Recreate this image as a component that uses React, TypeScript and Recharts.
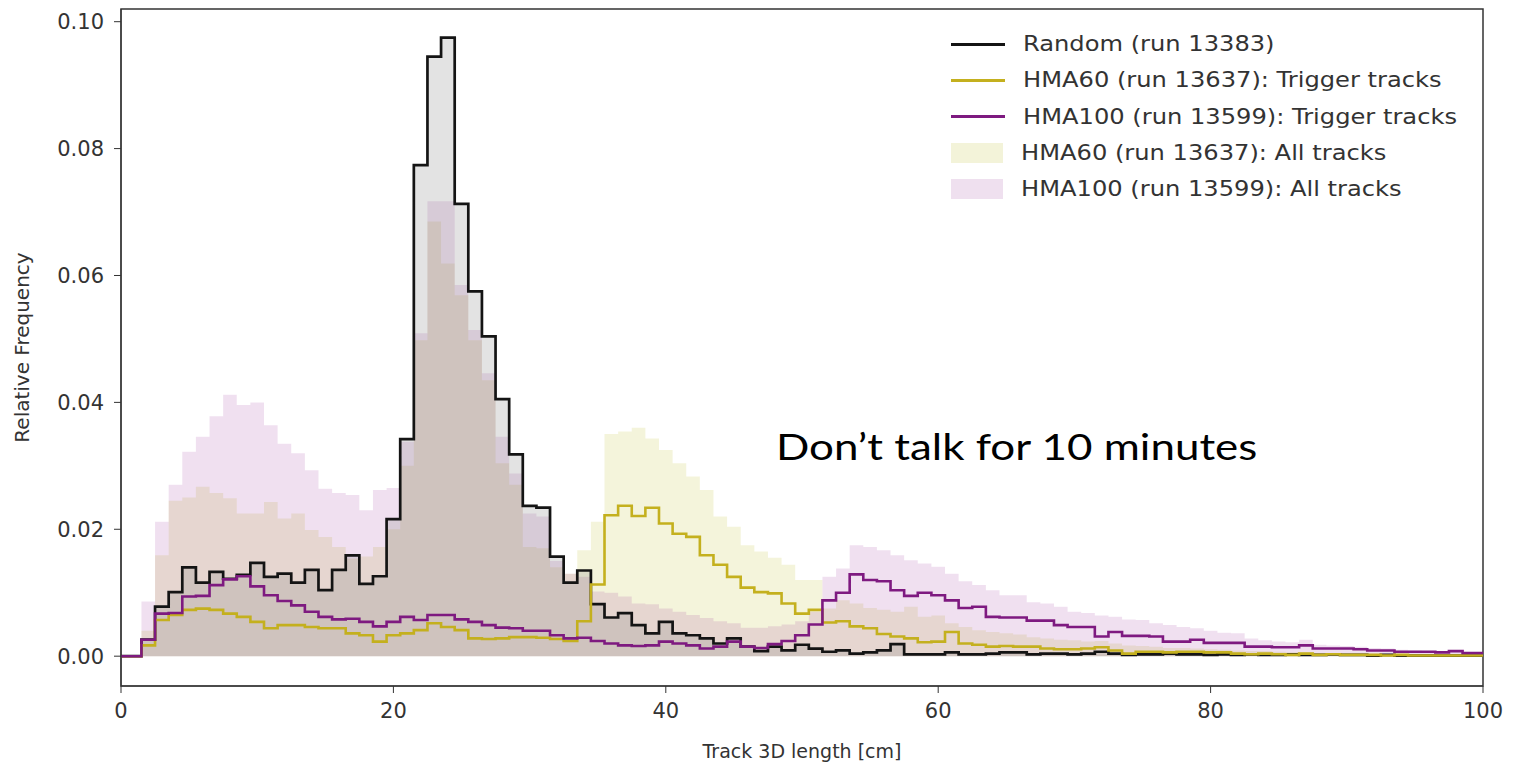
import { ComposedChart, Area, Line, XAxis, YAxis, ReferenceArea } from 'recharts'

// bin centres in cm, 1 cm wide bins
const binCenters = Array.from({ length: 101 }, (_, i) => i)

const randomRun = [
  0, 0, 0.0026, 0.0078, 0.0101, 0.014, 0.0116, 0.0133, 0.0122, 0.0128,
  0.0147, 0.0125, 0.013, 0.0116, 0.0136, 0.0104, 0.0136, 0.0159, 0.0114, 0.0126,
  0.0216, 0.0342, 0.0774, 0.0945, 0.0975, 0.0713, 0.0575, 0.0504, 0.0405, 0.0318,
  0.0237, 0.0234, 0.0157, 0.0116, 0.0135, 0.0082, 0.0061, 0.0068, 0.0049, 0.0036,
  0.0054, 0.0036, 0.0033, 0.0028, 0.002, 0.0028, 0.0015, 0.0008, 0.0015, 0.0009,
  0.0018, 0.0012, 0.0007, 0.0009, 0.0004, 0.0006, 0.0009, 0.0019, 0.0003, 0.0003,
  0.0003, 0.0006, 0.0003, 0.0003, 0.0004, 0.0006, 0.0006, 0.0003, 0.0004, 0.0004,
  0.0003, 0.0004, 0.0007, 0.0004, 0.0002, 0.0003, 0.0003, 0.0004, 0.0003, 0.0003,
  0.0002, 0.0003, 0.0002, 0.0003, 0.0002, 0.0002, 0.0003, 0.0002, 0.0002, 0.0003,
  0.0002, 0.0002, 0.0001, 0.0002, 0.0001, 0.0001, 0.0001, 0.0001, 0.0001, 0.0001, 0.0001,
]

const hma60Trigger = [
  0, 0, 0.0017, 0.0057, 0.0065, 0.0073, 0.0075, 0.0073, 0.0067, 0.0062,
  0.0054, 0.0044, 0.0049, 0.0049, 0.0046, 0.0044, 0.0044, 0.0036, 0.0033, 0.0023,
  0.0033, 0.0036, 0.0041, 0.0052, 0.0046, 0.0041, 0.0028, 0.0027, 0.0028, 0.003,
  0.003, 0.0029, 0.0027, 0.0024, 0.0055, 0.0113, 0.0222, 0.0237, 0.0221, 0.0234,
  0.0209, 0.0193, 0.0188, 0.0159, 0.0144, 0.0125, 0.0108, 0.0101, 0.0099, 0.0083,
  0.0067, 0.0073, 0.0053, 0.0055, 0.0047, 0.0044, 0.0035, 0.0031, 0.0028, 0.0022,
  0.0023, 0.0038, 0.002, 0.0018, 0.0015, 0.0016, 0.0015, 0.0015, 0.0012, 0.0011,
  0.0011, 0.0012, 0.0014, 0.0009, 0.0004, 0.0007, 0.0007, 0.0006, 0.0007, 0.0007,
  0.0006, 0.0006, 0.0004, 0.0003, 0.0004, 0.0003, 0.0002, 0.0004, 0.0002, 0.0003,
  0.0002, 0.0002, 0.0002, 0.0001, 0.0002, 0.0001, 0.0001, 0.0001, 0.0001, 0.0001, 0.0001,
]

const hma100Trigger = [
  0, 0, 0.0026, 0.0067, 0.0068, 0.0094, 0.0095, 0.0112, 0.0121, 0.0126,
  0.011, 0.0096, 0.0087, 0.008, 0.007, 0.0062, 0.0058, 0.0059, 0.0054, 0.0047,
  0.0054, 0.0062, 0.0057, 0.0065, 0.0065, 0.0058, 0.0054, 0.0049, 0.0045, 0.0044,
  0.004, 0.004, 0.0033, 0.0028, 0.0029, 0.0024, 0.002, 0.0017, 0.0016, 0.0017,
  0.0023, 0.002, 0.0017, 0.0012, 0.0015, 0.0023, 0.0015, 0.0013, 0.0019, 0.0024,
  0.0033, 0.005, 0.0088, 0.01, 0.0129, 0.012, 0.0118, 0.0104, 0.0095, 0.01,
  0.0096, 0.0088, 0.0076, 0.0078, 0.0062, 0.0061, 0.0061, 0.0056, 0.0056, 0.0049,
  0.0046, 0.0046, 0.0031, 0.0038, 0.0032, 0.0032, 0.0031, 0.0023, 0.0023, 0.0026,
  0.0021, 0.0021, 0.0021, 0.0015, 0.0015, 0.0014, 0.0014, 0.0017, 0.0012, 0.0012,
  0.0012, 0.0011, 0.0009, 0.0009, 0.0007, 0.0007, 0.0007, 0.0006, 0.0008, 0.0005, 0.0005,
]

const hma60All = [
  0, 0, 0.004, 0.0159, 0.0245, 0.025, 0.0267, 0.0257, 0.0249, 0.0225,
  0.0225, 0.0243, 0.0217, 0.0225, 0.0199, 0.0188, 0.0172, 0.0154, 0.0157, 0.0172,
  0.02, 0.03, 0.0498, 0.0685, 0.0619, 0.0569, 0.0498, 0.0435, 0.0304, 0.027,
  0.0172, 0.017, 0.014, 0.013, 0.0167, 0.0212, 0.035, 0.0354, 0.036, 0.0343,
  0.0325, 0.0304, 0.0283, 0.0262, 0.022, 0.0204, 0.0175, 0.0165, 0.0155, 0.0144,
  0.012, 0.012, 0.0075, 0.0088, 0.0083, 0.0076, 0.0073, 0.007, 0.0078, 0.0062,
  0.0064, 0.0052, 0.0046, 0.0041, 0.0038, 0.0036, 0.0034, 0.003, 0.0028, 0.0026,
  0.0025, 0.0023, 0.0024, 0.002, 0.0017, 0.0016, 0.0015, 0.0013, 0.0013, 0.0012,
  0.0011, 0.001, 0.0009, 0.0008, 0.0008, 0.0007, 0.0006, 0.0006, 0.0005, 0.0005,
  0.0004, 0.0004, 0.0004, 0.0003, 0.0003, 0.0003, 0.0002, 0.0002, 0.0002, 0.0002, 0.0002,
]

const hma100All = [
  0, 0, 0.0086, 0.0212, 0.027, 0.0322, 0.0346, 0.0378, 0.0412, 0.0396,
  0.04, 0.0364, 0.0335, 0.032, 0.0293, 0.0264, 0.0257, 0.0254, 0.023, 0.0262,
  0.0265, 0.0338, 0.0509, 0.0717, 0.0717, 0.0585, 0.0514, 0.0446, 0.0346, 0.0288,
  0.0225, 0.022, 0.015, 0.013, 0.0125, 0.0102, 0.01, 0.0094, 0.0083, 0.0082,
  0.0075, 0.007, 0.0065, 0.006, 0.0055, 0.0052, 0.0045, 0.0045, 0.0047, 0.005,
  0.0055, 0.007, 0.0125, 0.0138, 0.0175, 0.0172, 0.0167, 0.0159, 0.0151, 0.0146,
  0.0141, 0.013, 0.0118, 0.0112, 0.0104, 0.0096, 0.0096, 0.0085, 0.0083, 0.0078,
  0.007, 0.0068, 0.0064, 0.0062, 0.0058, 0.0057, 0.0052, 0.0049, 0.0046, 0.0044,
  0.004, 0.0037, 0.0036, 0.0028, 0.0025, 0.0023, 0.0022, 0.0026, 0.0018, 0.0017,
  0.0016, 0.0015, 0.0013, 0.0012, 0.001, 0.0009, 0.0008, 0.0008, 0.0007, 0.0006, 0.0006,
]

const xTicks = [0, 20, 40, 60, 80, 100]
const yTicks = [0, 0.02, 0.04, 0.06, 0.08, 0.1]

const BLACK = '#141414'
const OLIVE = '#c4b01e'
const PURPLE = '#7e1a80'
const FONT = '"DejaVu Sans", sans-serif'

const legendItems = [
  { label: 'Random (run 13383)', color: BLACK, kind: 'line' },
  { label: 'HMA60 (run 13637): Trigger tracks', color: OLIVE, kind: 'line' },
  { label: 'HMA100 (run 13599): Trigger tracks', color: PURPLE, kind: 'line' },
  { label: 'HMA60 (run 13637): All tracks', color: '#f3f3d9', kind: 'patch' },
  { label: 'HMA100 (run 13599): All tracks', color: '#efe0ef', kind: 'patch' },
]

// each value holds from the left edge of its bin to the next edge (stepAfter)
const rows = binCenters.map((c, i) => ({
  x: Math.max(0, c - 0.5),
  random: randomRun[i],
  hma60: hma60Trigger[i],
  hma100: hma100Trigger[i],
  hma60All: hma60All[i],
  hma100All: hma100All[i],
}))
const last = rows[rows.length - 1]
const data = [...rows, { ...last, x: 100 }]

function HistLegend() {
  return (
    <div style={{ position: 'absolute', left: 951, top: 26, fontFamily: FONT }}>
      {legendItems.map((it) => (
        <div key={it.label} style={{ display: 'flex', alignItems: 'center', height: 36.3 }}>
          {it.kind === 'line' ? (
            <div style={{ width: 54, height: 3, background: it.color }} />
          ) : (
            <div style={{ width: 52, height: 20, background: it.color }} />
          )}
          <span
            style={{
              marginLeft: 18,
              fontSize: 21,
              color: '#333',
              whiteSpace: 'nowrap',
              transform: 'scaleX(1.15)',
              transformOrigin: 'left center',
            }}
          >
            {it.label}
          </span>
        </div>
      ))}
    </div>
  )
}

export default function App() {
  return (
    <div style={{ position: 'absolute', left: 0, top: 0, width: 1516, height: 763, background: '#fff' }}>
      <ComposedChart
        width={1516}
        height={763}
        data={data}
        margin={{ top: 9, right: 33, bottom: 0, left: 0 }}
      >
        <XAxis
          type="number"
          dataKey="x"
          domain={[0, 100]}
          ticks={xTicks}
          height={77}
          tickSize={7}
          tickMargin={10}
          stroke="#333"
          tick={{ fill: '#333', fontSize: 21, fontFamily: FONT }}
          label={{
            value: 'Track 3D length [cm]',
            position: 'insideBottom',
            offset: 5,
            style: { fill: '#333', fontSize: 19, fontFamily: FONT },
          }}
        />
        <YAxis
          type="number"
          domain={[-0.0047, 0.102]}
          ticks={yTicks}
          width={121}
          tickSize={7}
          tickMargin={10}
          stroke="#333"
          tickFormatter={(v: number) => v.toFixed(2)}
          tick={{ fill: '#333', fontSize: 21, fontFamily: FONT }}
          label={{
            value: 'Relative Frequency',
            angle: -90,
            position: 'insideLeft',
            offset: 22,
            style: { fill: '#333', fontSize: 20, fontFamily: FONT, textAnchor: 'middle' },
          }}
        />

        <Area
          type="stepAfter"
          dataKey="hma60All"
          stroke="none"
          fill="#bcbd22"
          fillOpacity={0.16}
          baseValue={0}
          dot={false}
          activeDot={false}
          isAnimationActive={false}
        />
        <Area
          type="stepAfter"
          dataKey="hma100All"
          stroke="none"
          fill="#800080"
          fillOpacity={0.12}
          baseValue={0}
          dot={false}
          activeDot={false}
          isAnimationActive={false}
        />
        <Area
          type="stepAfter"
          dataKey="random"
          stroke="none"
          fill="#808080"
          fillOpacity={0.22}
          baseValue={0}
          dot={false}
          activeDot={false}
          isAnimationActive={false}
        />

        <Line type="stepAfter" dataKey="random" stroke={BLACK} strokeWidth={2.7} dot={false} activeDot={false} isAnimationActive={false} />
        <Line type="stepAfter" dataKey="hma60" stroke={OLIVE} strokeWidth={2.6} dot={false} activeDot={false} isAnimationActive={false} />
        <Line type="stepAfter" dataKey="hma100" stroke={PURPLE} strokeWidth={2.6} dot={false} activeDot={false} isAnimationActive={false} />

        <ReferenceArea x1={0} x2={100} y1={-0.0047} y2={0.102} fill="none" stroke="#333" strokeWidth={1.5} />
      </ComposedChart>

      <HistLegend />

      <div
        style={{
          position: 'absolute',
          left: 776,
          top: 424,
          fontFamily: 'Lato, "Open Sans", sans-serif',
          fontSize: 36,
          color: '#000',
          whiteSpace: 'nowrap',
          transform: 'scaleX(1.22)',
          transformOrigin: 'left center',
        }}
      >
        Don’t talk for 10 minutes
      </div>
    </div>
  )
}
